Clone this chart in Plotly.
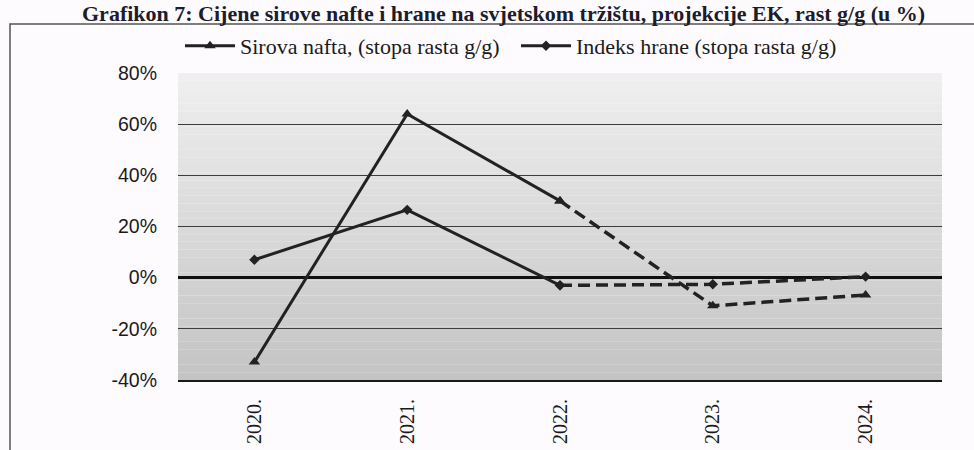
import plotly.graph_objects as go

years = ["2020.", "2021.", "2022.", "2023.", "2024."]
oil = [-33.0, 64.0, 30.0, -11.0, -6.8]
food = [7.0, 26.5, -3.0, -2.6, 0.4]
oil_name = "Sirova nafta, (stopa rasta g/g)"
food_name = "Indeks hrane (stopa rasta g/g)"
title_text = "Grafikon 7: Cijene sirove nafte i hrane na svjetskom tržištu, projekcije EK, rast g/g (u %)"
y_ticks = [-40, -20, 0, 20, 40, 60, 80]

LINE = "#222222"
W, H = 974, 450
L, R, T, B = 178, 32, 73, 70
PW, PH = W - L - R, H - T - B

x_idx = list(range(len(years)))
split = 2  # actual until 2022, projection after

fig = go.Figure()
for vals, name, sym, msize in [(oil, oil_name, "triangle-up", 10), (food, food_name, "diamond", 8)]:
    fig.add_trace(go.Scatter(
        x=x_idx[:split + 1], y=vals[:split + 1], mode="lines+markers", name=name,
        line=dict(color=LINE, width=3), marker=dict(symbol=sym, size=msize, color=LINE),
        showlegend=True, legendgroup=name))
    fig.add_trace(go.Scatter(
        x=x_idx[split:], y=vals[split:], mode="lines+markers", name=name,
        line=dict(color=LINE, width=3.5, dash="12px,6px"), marker=dict(symbol=sym, size=msize, color=LINE),
        showlegend=False, legendgroup=name))

# vertical gradient background of plot area
shapes = []
n = 40
top_c, bot_c = (239, 239, 239), (196, 196, 196)
for i in range(n):
    f = i / (n - 1)
    c = tuple(round(top_c[k] + (bot_c[k] - top_c[k]) * f) for k in range(3))
    shapes.append(dict(type="rect", xref="paper", yref="paper", x0=0, x1=1,
                       y0=1 - (i + 1) / n, y1=1 - i / n, layer="below",
                       line=dict(width=0), fillcolor="rgb(%d,%d,%d)" % c))
# outer chart frame (partially cropped like the scan)
shapes.append(dict(type="rect", xref="paper", yref="paper",
                   x0=(10 - L) / PW, x1=(W + 20 - L) / PW,
                   y0=-(B + 20) / PH, y1=1 + (T - 24) / PH,
                   line=dict(color="#555555", width=1.5), layer="below"))

fig.update_layout(
    width=W, height=H,
    margin=dict(l=L, r=R, t=T, b=B, pad=0, autoexpand=False),
    paper_bgcolor="#fdfbfd", plot_bgcolor="rgba(0,0,0,0)",
    font=dict(family="Liberation Serif, Times New Roman, serif", color="#1a1a1a"),
    shapes=shapes,
    showlegend=True,
    legend=dict(orientation="h", x=(180 - L) / PW, xanchor="left",
                y=1 + (T - 46) / PH, yanchor="middle",
                font=dict(size=22, family="Liberation Serif, serif", color="#1a1a1a"),
                bgcolor="rgba(0,0,0,0)", itemwidth=50,
                entrywidth=271, entrywidthmode="pixels"),
    annotations=[dict(text="<b>" + title_text + "</b>", xref="paper", yref="paper",
                      x=(503 - L) / PW, xanchor="center", y=1 + (T + 1) / PH, yanchor="top",
                      showarrow=False, font=dict(size=22, family="Liberation Serif, serif", color="#1c1c2c"))],
)
fig.update_xaxes(
    range=[-0.5, len(years) - 0.5], tickvals=x_idx, ticktext=years, tickangle=-90,
    showgrid=False, zeroline=False, showline=True, linecolor="#1a1a1a", linewidth=2,
    ticks="", ticklabelstandoff=9, automargin=False,
    tickfont=dict(size=20, family="Liberation Serif, serif", color="#1a1a1a"),
)
fig.update_yaxes(
    range=[-40, 80], tickvals=y_ticks, ticktext=["%d%%" % v for v in y_ticks],
    showgrid=True, gridcolor="#3c3c3c", gridwidth=1.3,
    zeroline=True, zerolinecolor="#111111", zerolinewidth=2.5,
    showline=False, ticks="", ticklabelstandoff=20, automargin=False,
    tickfont=dict(size=19.5, family="Liberation Sans, Arial, sans-serif", color="#1a1a1a"),
)
fig.write_html("out.html", config={"displayModeBar": False},
               post_script="document.body.style.margin='0';document.body.style.overflow='hidden';")
